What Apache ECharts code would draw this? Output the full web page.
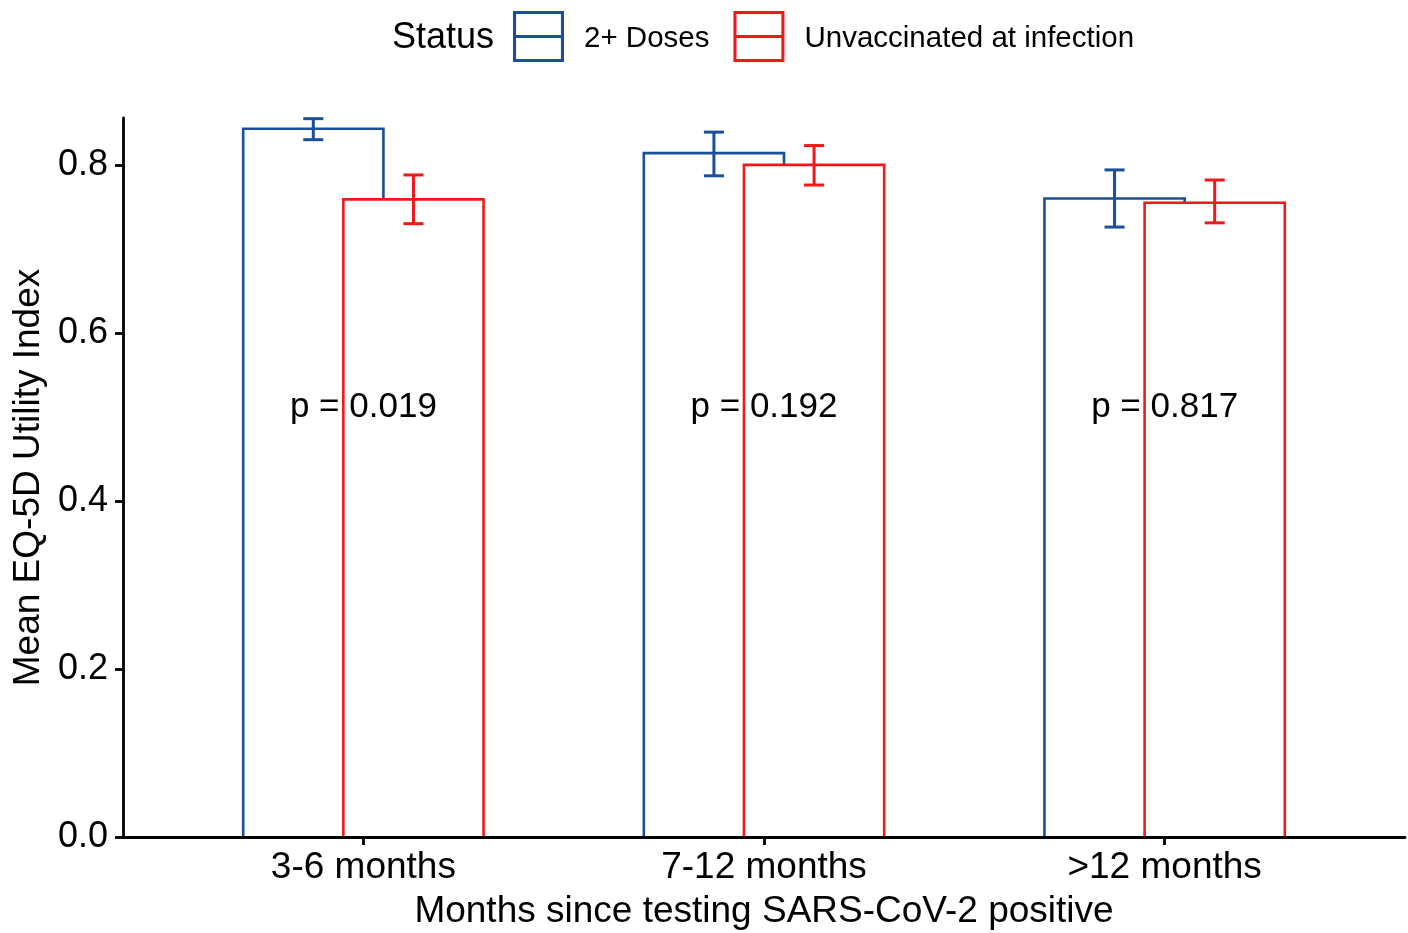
<!DOCTYPE html>
<html>
<head>
<meta charset="utf-8">
<script src="https://cdn.jsdelivr.net/npm/echarts@6/dist/echarts.min.js"></script>
<style>
html,body{margin:0;padding:0;background:#fff;}
#chart{width:1408px;height:933px;}
</style>
</head>
<body>
<div id="chart"></div>
<script>
const categories = ['3-6 months', '7-12 months', '>12 months'];
const seriesNames = ['2+ Doses', 'Unvaccinated at infection'];
const dosesMean = [0.843, 0.814, 0.760];
const dosesLow = [0.830, 0.787, 0.726];
const dosesHigh = [0.855, 0.839, 0.794];
const unvaxMean = [0.759, 0.800, 0.755];
const unvaxLow = [0.730, 0.776, 0.731];
const unvaxHigh = [0.788, 0.823, 0.782];
const pLabels = ['p = 0.019', 'p = 0.192', 'p = 0.817'];
const pLabelValue = 0.511;
const yTicks = [0, 0.2, 0.4, 0.6, 0.8];

const BLUE = '#1A4F9A';
const RED = '#F01818';
const FONT = '"Liberation Sans", Arial, sans-serif';
const BAR_HALF = 0.175;
const DODGE = 0.125;
const CAP = 0.025;

function barRender(offset, color) {
  return function (params, api) {
    const x = api.value(0), v = api.value(1);
    const tl = api.coord([x + offset - BAR_HALF, v]);
    const br = api.coord([x + offset + BAR_HALF, 0]);
    const left = tl[0], top = tl[1], right = br[0], bottom = br[1];
    return {
      type: 'group',
      children: [
        { type: 'rect', shape: { x: left, y: top, width: right - left, height: bottom - top }, style: { fill: '#fff' } },
        { type: 'polyline', shape: { points: [[left, bottom], [left, top], [right, top], [right, bottom]] },
          style: { stroke: color, lineWidth: 2.6, fill: null } }
      ]
    };
  };
}
function errRender(offset, color) {
  return function (params, api) {
    const x = api.value(0) + offset, lo = api.value(1), hi = api.value(2);
    const a = api.coord([x, lo]), b = api.coord([x, hi]);
    const c1 = api.coord([x - CAP, lo]), c2 = api.coord([x + CAP, lo]);
    const c3 = api.coord([x - CAP, hi]), c4 = api.coord([x + CAP, hi]);
    const st = { stroke: color, lineWidth: 3 };
    return {
      type: 'group',
      children: [
        { type: 'line', shape: { x1: a[0], y1: a[1], x2: b[0], y2: b[1] }, style: st },
        { type: 'line', shape: { x1: c1[0], y1: c1[1], x2: c2[0], y2: c2[1] }, style: st },
        { type: 'line', shape: { x1: c3[0], y1: c3[1], x2: c4[0], y2: c4[1] }, style: st }
      ]
    };
  };
}
function textRender(params, api) {
  const p = api.coord([api.value(0), api.value(1)]);
  return {
    type: 'text', x: p[0], y: p[1],
    style: { text: pLabels[params.dataIndex], font: '35px ' + FONT, fill: '#000', align: 'center', verticalAlign: 'middle' }
  };
}

const xs = categories.map((c, i) => i + 1);
const legendIcon = 'path://M0,0H50V50H0Z M3,3V47H47V3Z M3,23.6H47V26.4H3Z';

const option = {
  backgroundColor: '#fff',
  animation: false,
  textStyle: { fontFamily: FONT },
  graphic: [{
    type: 'text', left: 392, top: 20,
    style: { text: 'Status', font: '36px ' + FONT, fill: '#000' }
  }],
  legend: {
    left: 513, top: 11, padding: 0,
    itemWidth: 51, itemHeight: 51, itemGap: 24,
    icon: legendIcon,
    data: seriesNames,
    formatter: name => '{t|' + name + '}',
    textStyle: { fontSize: 29.5, color: '#000', fontFamily: FONT, padding: [0, 0, 0, 15],
      rich: { t: { fontSize: 29.5, color: '#000', fontFamily: FONT, padding: [5, 0, 0, 0] } } }
  },
  grid: { left: 123, right: 3, top: 118, bottom: 96, outerBoundsMode: 'none', containLabel: false },
  xAxis: {
    type: 'value', min: 0.4, max: 3.6, z: 10,
    name: 'Months since testing SARS-CoV-2 positive',
    nameLocation: 'middle', nameGap: 56,
    nameTextStyle: { fontSize: 37, color: '#000', fontFamily: FONT },
    axisLine: { show: true, lineStyle: { color: '#000', width: 2.8 } },
    axisTick: { show: true, length: 8, lineStyle: { color: '#000', width: 2.8 }, customValues: xs },
    axisLabel: { fontSize: 37, color: '#000', margin: 12, fontFamily: FONT, customValues: xs,
      formatter: v => categories[Math.round(v) - 1] },
    splitLine: { show: false }
  },
  yAxis: {
    type: 'value', min: 0, max: 0.8558, z: 10,
    name: 'Mean EQ-5D Utility Index',
    nameLocation: 'middle', nameGap: 76,
    nameTextStyle: { fontSize: 37, color: '#000', fontFamily: FONT },
    axisLine: { show: true, lineStyle: { color: '#000', width: 2.8 } },
    axisTick: { show: true, length: 8, lineStyle: { color: '#000', width: 2.8 }, customValues: yTicks },
    axisLabel: { fontSize: 36, color: '#000', margin: 15, fontFamily: FONT, customValues: yTicks,
      padding: [4, 0, 0, 0],
      formatter: v => v.toFixed(1) },
    splitLine: { show: false }
  },
  series: [
    { name: seriesNames[0], type: 'custom', z: 2, itemStyle: { color: BLUE },
      renderItem: barRender(-DODGE, BLUE), data: xs.map((x, i) => [x, dosesMean[i]]) },
    { name: seriesNames[0], type: 'custom', z: 3, itemStyle: { color: BLUE },
      renderItem: errRender(-DODGE, BLUE), data: xs.map((x, i) => [x, dosesLow[i], dosesHigh[i]]) },
    { name: seriesNames[1], type: 'custom', z: 4, itemStyle: { color: RED },
      renderItem: barRender(DODGE, RED), data: xs.map((x, i) => [x, unvaxMean[i]]) },
    { name: seriesNames[1], type: 'custom', z: 5, itemStyle: { color: RED },
      renderItem: errRender(DODGE, RED), data: xs.map((x, i) => [x, unvaxLow[i], unvaxHigh[i]]) },
    { type: 'custom', z: 6, silent: true, renderItem: textRender,
      data: xs.map((x, i) => [x, pLabelValue]) }
  ]
};
const chart = echarts.init(document.getElementById('chart'), null, { renderer: 'canvas' });
chart.setOption(option);
</script>
</body>
</html>
